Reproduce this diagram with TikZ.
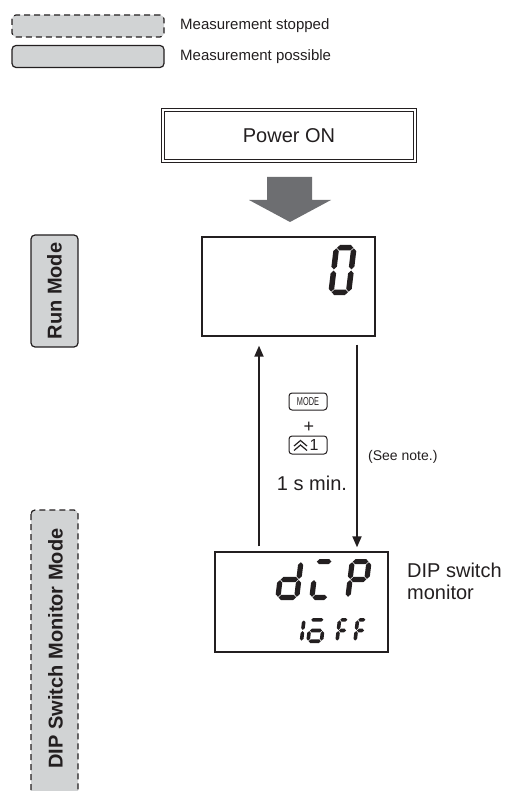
\documentclass[tikz,border=0pt]{standalone}
\usepackage{fontspec}
\setmainfont{Liberation Sans}
\newfontfamily\narrowfont[FakeStretch=0.64]{Liberation Sans}
\usetikzlibrary{arrows.meta}
\definecolor{boxgray}{HTML}{D1D3D4}
\definecolor{arrowgray}{HTML}{6D6E71}
\definecolor{ink}{HTML}{231F20}

% seven-segment helpers
\newcommand\hseg[1]{\fill (\dgT/2+\dgG,#1) -- (\dgT+\dgG,#1+\dgT/2) -- (\dgW-\dgT-\dgG,#1+\dgT/2) -- (\dgW-\dgT/2-\dgG,#1) -- (\dgW-\dgT-\dgG,#1-\dgT/2) -- (\dgT+\dgG,#1-\dgT/2) -- cycle;}
\newcommand\vseg[3]{\fill (#1,#2+\dgG) -- (#1+\dgT/2,#2+\dgT/2+\dgG) -- (#1+\dgT/2,#3-\dgT/2-\dgG) -- (#1,#3-\dgG) -- (#1-\dgT/2,#3-\dgT/2-\dgG) -- (#1-\dgT/2,#2+\dgT/2+\dgG) -- cycle;}
\def\segcmda{\hseg{\dgH-\dgT/2}}
\def\segcmdg{\hseg{\dgH/2}}
\def\segcmdd{\hseg{\dgT/2}}
\def\segcmdf{\vseg{\dgT/2}{\dgH/2}{\dgH-\dgT/2}}
\def\segcmdb{\vseg{\dgW-\dgT/2}{\dgH/2}{\dgH-\dgT/2}}
\def\segcmde{\vseg{\dgT/2}{\dgT/2}{\dgH/2}}
\def\segcmdc{\vseg{\dgW-\dgT/2}{\dgT/2}{\dgH/2}}
\newcommand\segdigit[6]{\begin{scope}[shift={(#1,-#2)},xslant=0.12,fill=ink]\def\dgW{#3}\def\dgH{#4}\def\dgT{#5}\def\dgG{0.6}\foreach \s in {#6}{\csname segcmd\s\endcsname}\end{scope}}

\begin{document}
\begin{tikzpicture}[x=1pt,y=1pt,
  every node/.style={text=ink},
  legendbox/.style={draw=ink,line width=1.2pt,fill=boxgray,rounded corners=4pt,minimum width=152pt,minimum height=22pt,inner sep=0pt},
  stopdash/.style={dash pattern=on 6pt off 4pt},
  modebox/.style={draw=ink,line width=1.2pt,fill=boxgray,rounded corners=4pt},
  modetext/.style={font=\bfseries\fontsize{20}{24}\selectfont,rotate=90,inner sep=0pt},
  disp/.style={draw=ink,line width=1.3pt,minimum width=173pt,inner sep=0pt},
  keybox/.style={draw=ink,line width=1pt,rounded corners=3pt,minimum width=38pt,inner sep=0pt},
  conn/.style={draw=ink,line width=1.8pt,-{Triangle[width=9pt,length=11pt]}},
  lbl/.style={font=\fontsize{20}{22}\selectfont,inner sep=0pt},
  small/.style={font=\fontsize{15}{17}\selectfont,inner sep=0pt,anchor=west}]
\useasboundingbox (0,-791) rectangle (516,0);

% legend
\node[legendbox,stopdash] (lstop) at (88,-26) {};
\node[legendbox] (lposs) at (88,-56.5) {};
\node[small] (tstop) at (180,-26) {Measurement stopped};
\node[small] (tposs) at (180,-56.5) {Measurement possible};

% power on
\node[draw=ink,double,line width=1.1pt,double distance=2.2pt,minimum width=252pt,minimum height=51pt,lbl] (power) at (289,-135.5) {Power ON};

% big arrow
\fill[arrowgray] (267,-177) -- (312,-177) -- (312,-200) -- (331,-200) -- (290,-222) -- (249,-200) -- (267,-200) -- cycle;

% mode boxes
\node[modebox,minimum width=112pt,minimum height=47pt,modetext,inner sep=0pt] (runmode) at (54.5,-291) {Run Mode};
\draw[modebox,stopdash] (31,-510) rectangle (78,-830);
\node[modetext] (dipmode) at (55.5,-648.5) {DIP Switch Monitor Mode};

% displays
\node[disp,minimum height=99pt] (rundisp) at (288.5,-286.5) {};
\node[disp,minimum height=100pt] (dipdisp) at (301.5,-602) {};

% run display digit
\segdigit{328}{295}{23}{50}{5.5}{a,b,c,d,e,f}

% dip display digits
\segdigit{275}{600}{24}{41}{5.2}{b,c,d,e,g}
\segdigit{309}{600}{21}{41}{5.2}{a,e,d}
\segdigit{345}{600}{22}{41}{5.2}{a,b,e,f,g}
\segdigit{294}{643}{9}{25}{3.6}{b,c}
\segdigit{306}{643}{17}{25}{3.6}{a,c,d,e,g}
\segdigit{335}{643}{12}{25}{3.6}{a,e,f,g}
\segdigit{353}{643}{12}{25}{3.6}{a,e,f,g}

% connectors
\coordinate (upx) at (259,0);
\coordinate (dnx) at (357,0);
\draw[conn,shorten <=5pt,shorten >=9pt] (dipdisp.north -| upx) -- (rundisp.south -| upx);
\draw[conn,shorten <=8pt,shorten >=4pt] (rundisp.south -| dnx) -- (dipdisp.north -| dnx);

% keys
\node[keybox,minimum height=17pt,font=\narrowfont\fontsize{11.5}{13}\selectfont] (modekey) at (308,-401.5) {MODE};
\node[lbl,font=\fontsize{18}{20}\selectfont] (plus) at (309,-427) {+};
\node[keybox,minimum height=18pt,font=\fontsize{16}{18}\selectfont] (upkey) at (308,-445) {\hspace*{12pt}1};
\draw[ink,line width=1.2pt] ([xshift=-14pt,yshift=-1pt]upkey.center) -- ([xshift=-7.5pt,yshift=4.5pt]upkey.center) -- ([xshift=-1pt,yshift=-1pt]upkey.center);
\draw[ink,line width=1.2pt] ([xshift=-14pt,yshift=-5.5pt]upkey.center) -- ([xshift=-7.5pt,yshift=0pt]upkey.center) -- ([xshift=-1pt,yshift=-5.5pt]upkey.center);
\node[lbl] (mintime) at (312,-483) {1 s min.};
\node[small,font=\fontsize{14}{16}\selectfont] (note) at (368,-457) {(See note.)};

% dip label
\node[lbl,anchor=west,align=left,font=\fontsize{20}{22}\selectfont] (diplbl) at (407,-581) {DIP switch\\monitor};
\end{tikzpicture}
\end{document}
